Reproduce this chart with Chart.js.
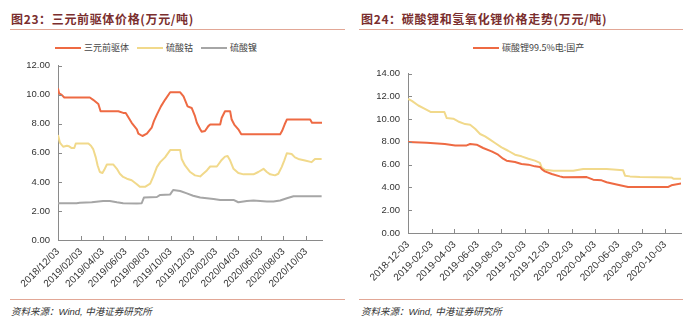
<!DOCTYPE html>
<html>
<head>
<meta charset="utf-8">
<script src="https://cdn.jsdelivr.net/npm/chart.js@4.4.1/dist/chart.umd.min.js"></script>
<style>
  body { margin: 0; width: 694px; height: 327px; background: #fff; position: relative; overflow: hidden;
         font-family: "Liberation Sans", "Noto Sans CJK SC", sans-serif; }
  .title { position: absolute; top: 10px; font: bold 12px "Noto Sans CJK SC", sans-serif; color: #7a2e2e; white-space: nowrap; letter-spacing: 0.65px; }
  .rule { position: absolute; height: 1px; background: #e2a796; }
  .legend { position: absolute; top: 41px; font: 9px "Noto Sans CJK SC", sans-serif; color: #444; white-space: nowrap; }
  .legend span.key { display: inline-block; width: 26px; height: 2px; vertical-align: middle; margin: 0 3px 2px 0; }
  .legend span.item { margin-right: 6px; }
  .source { position: absolute; top: 304px; font: italic 9.5px "Liberation Sans", "Noto Sans CJK SC", sans-serif; color: #333; white-space: nowrap; }
  canvas { position: absolute; }
</style>
</head>
<body>

<div class="title" style="left:11px">图23：三元前驱体价格(万元/吨)</div>
<div class="rule" style="left:10px; width:335px; top:29px"></div>
<div class="legend" style="left:55px">
  <span class="item"><span class="key" style="background:#ee6a43"></span>三元前驱体</span>
  <span class="item"><span class="key" style="background:#f1d98b"></span>硫酸钴</span>
  <span class="item"><span class="key" style="background:#a6a6a6"></span>硫酸镍</span>
</div>
<canvas id="leftChart" style="left:0; top:52px"></canvas>
<div class="rule" style="left:10px; width:335px; top:299px"></div>
<div class="source" style="left:11px">资料来源：Wind, 中港证券研究所</div>

<div class="title" style="left:361px">图24：碳酸锂和氢氧化锂价格走势(万元/吨)</div>
<div class="rule" style="left:359px; width:324px; top:29px"></div>
<div class="legend" style="left:473px">
  <span class="item"><span class="key" style="background:#ee6a43"></span>碳酸锂99.5%电:国产</span>
</div>
<canvas id="rightChart" style="left:350px; top:52px"></canvas>
<div class="rule" style="left:359px; width:324px; top:299px"></div>
<div class="source" style="left:361px">资料来源：Wind, 中港证券研究所</div>

<script>
  // -----------------------------
  // 数据（万元/吨）
  // -----------------------------
  // 图23 三元前驱体
  const precursorDates = [
    "2018-12-03","2018-12-06","2018-12-13","2018-12-20","2019-02-27","2019-03-08","2019-03-22","2019-03-28",
    "2019-05-15","2019-05-28","2019-06-04","2019-06-20","2019-07-04","2019-07-08","2019-07-19","2019-07-31",
    "2019-08-13","2019-08-19","2019-08-27","2019-09-07","2019-09-18","2019-10-02","2019-10-29","2019-11-07",
    "2019-11-18","2019-11-29","2019-12-08","2019-12-13","2019-12-22","2019-12-26","2020-01-04","2020-01-13",
    "2020-01-18","2020-02-14","2020-02-18","2020-02-27","2020-03-12","2020-03-16","2020-03-23","2020-04-03",
    "2020-04-11","2020-07-25","2020-07-30","2020-08-06","2020-08-12","2020-10-14","2020-10-19","2020-11-15"
  ];
  const precursorPrices = [
    10.44, 10.1, 9.99, 9.81, 9.81, 9.65, 9.36, 8.86,
    8.86, 8.75, 8.75, 8.07, 7.62, 7.32, 7.16, 7.32,
    7.73, 8.18, 8.63, 9.2, 9.65, 10.17, 10.17, 9.88,
    9.2, 9.09, 8.52, 8.07, 7.62, 7.46, 7.5, 7.84,
    7.95, 7.95, 8.4, 8.86, 8.86, 8.29, 7.95, 7.62,
    7.28, 7.28, 7.5, 7.95, 8.29, 8.29, 8.07, 8.07
  ];

  // 硫酸钴
  const cobaltDates = [
    "2018-12-03","2018-12-08","2018-12-17","2018-12-27","2019-01-02","2019-01-09","2019-01-16","2019-01-20",
    "2019-02-23","2019-03-02","2019-03-08","2019-03-15","2019-03-20","2019-03-26","2019-04-02","2019-04-07",
    "2019-04-14","2019-05-01","2019-05-11","2019-05-19","2019-05-28","2019-06-07","2019-06-20","2019-07-04",
    "2019-07-12","2019-07-26","2019-08-09","2019-08-17","2019-08-27","2019-09-05","2019-09-18","2019-10-02",
    "2019-10-29","2019-11-02","2019-11-11","2019-11-25","2019-12-08","2019-12-22","2019-12-30","2020-01-09",
    "2020-01-18","2020-02-05","2020-02-09","2020-02-18","2020-02-27","2020-03-05","2020-03-12","2020-03-21",
    "2020-04-03","2020-04-17","2020-05-14","2020-05-27","2020-06-10","2020-06-19","2020-06-28","2020-07-11",
    "2020-07-20","2020-07-29","2020-08-05","2020-08-12","2020-08-25","2020-09-03","2020-09-12","2020-09-30",
    "2020-10-18","2020-10-27","2020-11-14"
  ];
  const cobaltPrices = [
    7.23, 6.71, 6.42, 6.49, 6.45, 6.33, 6.33, 6.64,
    6.64, 6.49, 6.26, 5.69, 5.13, 4.68, 4.61, 4.83,
    5.2, 5.2, 4.9, 4.56, 4.34, 4.22, 4.11, 3.84,
    3.66, 3.66, 3.88, 4.34, 5.02, 5.36, 5.69, 6.19,
    6.19, 5.58, 5.13, 4.68, 4.45, 4.38, 4.56, 4.79,
    5.06, 5.06, 5.2, 5.51, 5.74, 5.78, 5.47, 4.9,
    4.61, 4.52, 4.52, 4.68, 4.9, 4.68, 4.52, 4.45,
    4.56, 5.02, 5.47, 5.97, 5.92, 5.69, 5.58, 5.47,
    5.36, 5.58, 5.58
  ];

  // 硫酸镍
  const nickelDates = [
    "2018-12-03","2019-01-22","2019-01-31","2019-03-04","2019-04-04","2019-04-22","2019-05-11","2019-05-28",
    "2019-07-04","2019-07-17","2019-07-23","2019-08-27","2019-09-05","2019-10-02","2019-10-10","2019-10-29",
    "2019-11-16","2019-12-03","2019-12-22","2020-01-27","2020-02-14","2020-03-21","2020-04-03","2020-04-26",
    "2020-05-14","2020-06-19","2020-07-07","2020-07-25","2020-08-12","2020-08-30","2020-11-14"
  ];
  const nickelPrices = [
    2.53, 2.53, 2.56, 2.6, 2.69, 2.69, 2.6, 2.53,
    2.51, 2.53, 2.92, 2.96, 3.1, 3.14, 3.44, 3.37,
    3.21, 3.05, 2.92, 2.83, 2.76, 2.76, 2.6, 2.69,
    2.72, 2.65, 2.65, 2.72, 2.87, 3.01, 3.01
  ];

  // 图24 碳酸锂99.5%电:国产
  const carbonateDates = [
    "2018-12-03","2019-01-21","2019-03-09","2019-04-05","2019-05-05","2019-05-14","2019-05-31","2019-06-17",
    "2019-07-09","2019-07-26","2019-08-08","2019-08-17","2019-09-08","2019-09-25","2019-10-13","2019-10-30",
    "2019-11-12","2019-11-17","2019-11-25","2019-12-13","2020-01-03","2020-01-12","2020-03-13","2020-03-30",
    "2020-04-21","2020-05-04","2020-05-30","2020-06-29","2020-10-12","2020-10-20","2020-11-15"
  ];
  const carbonatePrices = [
    7.98, 7.92, 7.81, 7.69, 7.69, 7.81, 7.75, 7.46,
    7.16, 6.87, 6.52, 6.35, 6.23, 6.06, 6.0, 5.85,
    5.8, 5.6, 5.41, 5.18, 4.97, 4.89, 4.91, 4.68,
    4.62, 4.45, 4.25, 4.04, 4.04, 4.19, 4.35
  ];

  // 氢氧化锂
  const hydroxideDates = [
    "2018-12-03","2018-12-13","2018-12-30","2019-01-16","2019-02-01","2019-03-08","2019-03-14","2019-03-31",
    "2019-04-13","2019-05-01","2019-05-14","2019-05-27","2019-06-09","2019-06-22","2019-07-05","2019-07-18",
    "2019-08-04","2019-08-21","2019-09-08","2019-09-25","2019-10-13","2019-10-30","2019-11-12","2019-11-17",
    "2019-11-25","2019-12-17","2020-02-07","2020-03-04","2020-05-04","2020-06-16","2020-06-21","2020-07-04",
    "2020-07-30","2020-10-20","2020-10-25","2020-11-15"
  ];
  const hydroxidePrices = [
    11.78, 11.6, 11.19, 10.9, 10.61, 10.61, 10.09, 10.03,
    9.79, 9.56, 9.5, 9.15, 8.69, 8.48, 8.19, 7.9,
    7.51, 7.22, 6.87, 6.73, 6.52, 6.35, 6.15, 5.71,
    5.56, 5.47, 5.47, 5.62, 5.62, 5.5, 5.03, 4.97,
    4.91, 4.88, 4.77, 4.77
  ];

  // 横轴刻度
  const leftTickLabels = ["2018/12/03","2019/02/03","2019/04/03","2019/06/03","2019/08/03","2019/10/03",
    "2019/12/03","2020/02/03","2020/04/03","2020/06/03","2020/08/03","2020/10/03"];
  const rightTickLabels = ["2018-12-03","2019-02-03","2019-04-03","2019-06-03","2019-08-03","2019-10-03",
    "2019-12-03","2020-02-03","2020-04-03","2020-06-03","2020-08-03","2020-10-03"];

  // -----------------------------
  // 共通処理
  // -----------------------------
  const START = Date.UTC(2018, 11, 3);
  function dayOf(s) {
    const [y, m, d] = s.split(/[-\/]/).map(Number);
    return (Date.UTC(y, m - 1, d) - START) / 864e5;
  }
  function toPoints(dates, values) {
    return dates.map((d, i) => ({ x: dayOf(d), y: values[i] }));
  }

  const AXIS_COLOR = "#8a8a8a";
  const LABEL_FONT = { family: "'Liberation Sans', Arial, sans-serif", size: 10 };

  // 内向きの目盛り線
  const innerTicks = {
    id: "innerTicks",
    afterDraw(chart) {
      const { ctx, chartArea, scales } = chart;
      ctx.save();
      ctx.strokeStyle = AXIS_COLOR;
      ctx.lineWidth = 1;
      ctx.beginPath();
      scales.y.ticks.forEach(t => {
        const y = Math.round(scales.y.getPixelForValue(t.value)) + 0.5;
        ctx.moveTo(chartArea.left, y);
        ctx.lineTo(chartArea.left + 4, y);
      });
      scales.x.ticks.forEach(t => {
        const x = Math.round(scales.x.getPixelForValue(t.value)) + 0.5;
        ctx.moveTo(x, chartArea.bottom);
        ctx.lineTo(x, chartArea.bottom - 4);
      });
      ctx.stroke();
      ctx.restore();
    }
  };

  function makeChart(id, size, datasets, opt) {
    const canvas = document.getElementById(id);
    canvas.width = size.w;
    canvas.height = size.h;
    canvas.style.width = size.w + "px";
    canvas.style.height = size.h + "px";

    return new Chart(canvas.getContext("2d"), {
      type: "line",
      data: {
        datasets: datasets.map(ds => ({
          label: ds.label,
          data: ds.data,
          borderColor: ds.color,
          borderWidth: 2,
          pointRadius: 0,
          tension: 0,
          borderJoinStyle: "round",
          fill: false
        }))
      },
      options: {
        responsive: false,
        animation: false,
        layout: { padding: { top: opt.padTop, right: opt.padRight, left: 0, bottom: 0 } },
        plugins: { legend: { display: false }, tooltip: { enabled: false } },
        scales: {
          x: {
            type: "linear",
            min: 0,
            max: opt.xMax,
            afterBuildTicks: s => { s.ticks = opt.tickLabels.map(l => ({ value: dayOf(l) })); },
            afterFit: s => { s.height = opt.xHeight; },
            grid: { display: false, drawTicks: false },
            border: { display: true, color: AXIS_COLOR, width: 1 },
            ticks: {
              autoSkip: false,
              maxRotation: 45,
              minRotation: 45,
              padding: 6,
              color: "#333",
              font: LABEL_FONT,
              callback: (v, i) => opt.tickLabels[i]
            }
          },
          y: {
            min: 0,
            max: opt.yMax,
            afterFit: s => { s.width = opt.yWidth; },
            grid: { display: false, drawTicks: false },
            border: { display: true, color: AXIS_COLOR, width: 1 },
            ticks: {
              stepSize: 2,
              padding: 8,
              color: "#333",
              font: { family: LABEL_FONT.family, size: 9.5 },
              callback: v => v.toFixed(2)
            }
          }
        }
      },
      plugins: [innerTicks]
    });
  }

  // -----------------------------
  // 描画
  // -----------------------------
  makeChart("leftChart", { w: 330, h: 246 }, [
    { label: "三元前驱体", data: toPoints(precursorDates, precursorPrices), color: "#ee6a43" },
    { label: "硫酸钴", data: toPoints(cobaltDates, cobaltPrices), color: "#f1d98b" },
    { label: "硫酸镍", data: toPoints(nickelDates, nickelPrices), color: "#a6a6a6" }
  ], { padTop: 10, padRight: 8, xHeight: 58, yWidth: 58, yMax: 12, xMax: 713, tickLabels: leftTickLabels });

  makeChart("rightChart", { w: 339, h: 246 }, [
    { label: "碳酸锂99.5%电:国产", data: toPoints(carbonateDates, carbonatePrices), color: "#ee6a43" },
    { label: "氢氧化锂", data: toPoints(hydroxideDates, hydroxidePrices), color: "#f1d98b" }
  ], { padTop: 21.5, padRight: 8, xHeight: 65, yWidth: 58, yMax: 14, xMax: 712, tickLabels: rightTickLabels });
</script>
</body>
</html>
